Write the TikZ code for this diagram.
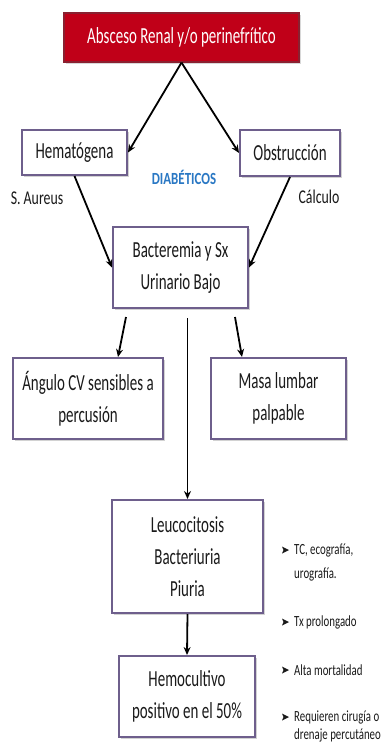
\documentclass[tikz,border=0pt]{standalone}
\usepackage{fontspec}
\usepackage{graphicx}
\setmainfont{Carlito}
\newcommand\msq[1]{\scalebox{0.65}[1]{#1}}
\newcommand\lsq[1]{\scalebox{0.71}[1]{#1}}
\newcommand\dsq[1]{\scalebox{0.76}[1]{#1}}
\newcommand\bsq[1]{\scalebox{0.70}[1]{#1}}
\usetikzlibrary{arrows.meta,shadows}
\definecolor{titlered}{HTML}{C00018}
\definecolor{titleborder}{HTML}{8A2030}
\definecolor{boxborder}{HTML}{6E5F8C}
\definecolor{diabblue}{HTML}{2A78C4}
\definecolor{txt}{HTML}{1A1A1A}
\begin{document}
\begin{tikzpicture}[x=1pt,y=-1pt,
  flowbox/.style={draw=boxborder,line width=2pt,fill=white,align=center,
    font=\fontsize{23}{32}\selectfont,text=txt,inner sep=0pt,
    drop shadow={opacity=0.35,shadow xshift=1.5pt,shadow yshift=-1.5pt}},
  titlebox/.style={draw=titleborder,line width=1.2pt,fill=titlered,text=white,
    font=\fontsize{23}{26}\selectfont,inner sep=0pt,
    drop shadow={opacity=0.3,shadow xshift=1.5pt,shadow yshift=-1.5pt}},
  conn/.style={line width=1.8pt,-{Stealth[length=8pt,width=7pt]}},
  sidelabel/.style={font=\fontsize{19.5}{22}\selectfont,text=txt},
  bullettext/.style={font=\fontsize{15.5}{18}\selectfont,text=txt,anchor=west,inner sep=0pt},
  bulletmark/.style={fill=txt}
]
\useasboundingbox (0,0) rectangle (383,745);
\fill[white] (0,0) rectangle (383,745);

\node[titlebox,minimum width=235pt,minimum height=49pt] (title) at (181.5,37.5) {\msq{Absceso Renal y/o perinefrítico}};
\node[flowbox,minimum width=105pt,minimum height=45pt] (hema) at (74.5,152.5) {\msq{Hematógena}};
\node[flowbox,minimum width=100pt,minimum height=46pt] (obst) at (290,153) {\msq{Obstrucción}};
\node[flowbox,minimum width=135pt,minimum height=81pt] (bact) at (180.5,267.5) {\msq{Bacteremia y Sx}\\\msq{Urinario Bajo}};
\node[flowbox,minimum width=150pt,minimum height=81pt] (ang) at (88,398.5) {\msq{Ángulo CV sensibles a}\\\msq{percusión}};
\node[flowbox,minimum width=135pt,minimum height=81pt] (masa) at (278.5,398.5) {\msq{Masa lumbar}\\\msq{palpable}};
\node[flowbox,minimum width=151pt,minimum height=113pt] (leuco) at (187.5,556.5) {\msq{Leucocitosis}\\\msq{Bacteriuria}\\\msq{Piuria}};
\node[flowbox,minimum width=136pt,minimum height=81pt] (hemo) at (187,696.5) {\msq{Hemocultivo}\\\msq{positivo en el 50\%}};

\node[font=\bfseries\fontsize{17}{20}\selectfont,text=diabblue] (diab) at (184,177) {\dsq{DIABÉTICOS}};
\node[sidelabel] (saureus) at (37,198) {\lsq{S. Aureus}};
\node[sidelabel] (calculo) at (319,197) {\lsq{Cálculo}};

\draw[conn] (title.south) -- (hema.east);
\draw[conn] (title.south) -- (obst.west);
\draw[conn] (hema.south) -- (bact.west);
\draw[conn] (obst.south) -- (bact.east);
\draw[conn] ([xshift=14pt,yshift=-8pt]bact.south west) -- ([xshift=30pt]ang.north);
\draw[conn] ([xshift=-14pt,yshift=-8pt]bact.south east) -- ([xshift=-36.5pt]masa.north);
\coordinate (midstart) at (187.5,318);
\draw[conn] (midstart) -- (leuco.north);
\draw[conn] (leuco.south) -- (hemo.north);

\node[bullettext] (b1) at (294,550) {\bsq{TC, ecografía,}};
\node[bullettext] (b1b) at (294,574) {\bsq{urografía.}};
\node[bullettext] (b2) at (294,622) {\bsq{Tx prolongado}};
\node[bullettext] (b3) at (294,670) {\bsq{Alta mortalidad}};
\node[bullettext] (b4) at (294,717) {\bsq{Requieren cirugía o}};
\node[bullettext] (b4b) at (294,735) {\bsq{drenaje percutáneo}};
\foreach \b in {b1,b2,b3,b4}{
  \fill[bulletmark,shift={(\b.west)}] (-12,-3.5) -- (-5,0) -- (-12,3.5) -- (-10.5,0) -- cycle;
}
\end{tikzpicture}
\end{document}
